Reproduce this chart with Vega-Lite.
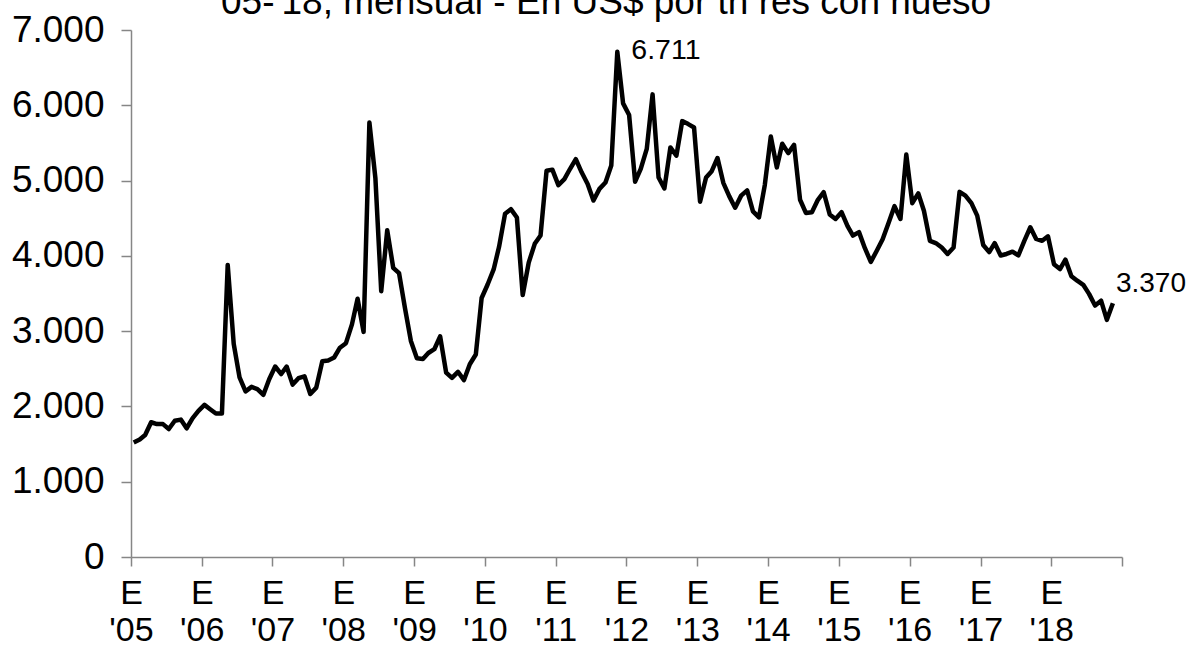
{
  "$schema": "https://vega.github.io/schema/vega-lite/v6.json",
  "autosize": "none",
  "width": 991,
  "height": 527,
  "padding": {"left": 131, "top": 30, "right": 66, "bottom": 98},
  "background": "white",
  "config": {
    "view": {"stroke": null},
    "font": "Liberation Sans",
    "axis": {"grid": false, "domainColor": "#868686", "tickColor": "#868686", "domainWidth": 1.5, "tickWidth": 1.5, "labelColor": "#000000", "labelFont": "Liberation Sans"}
  },
  "title": {
    "text": "'05-'18, mensual - En US$ por tn res con hueso",
    "fontSize": 37,
    "fontWeight": "normal",
    "font": "Liberation Sans",
    "color": "#000000",
    "anchor": "middle",
    "frame": "group",
    "baseline": "alphabetic",
    "offset": 0,
    "dx": -24,
    "dy": 40
  },
  "data": {
    "values": [
      {"date": "2005-01-15", "value": 1520}, {"date": "2005-02-15", "value": 1560}, {"date": "2005-03-15", "value": 1620}, {"date": "2005-04-15", "value": 1790}, {"date": "2005-05-15", "value": 1765}, {"date": "2005-06-15", "value": 1765}, {"date": "2005-07-15", "value": 1700}, {"date": "2005-08-15", "value": 1810}, {"date": "2005-09-15", "value": 1825}, {"date": "2005-10-15", "value": 1710}, {"date": "2005-11-15", "value": 1845}, {"date": "2005-12-15", "value": 1940},
      {"date": "2006-01-15", "value": 2020}, {"date": "2006-02-15", "value": 1960}, {"date": "2006-03-15", "value": 1905}, {"date": "2006-04-15", "value": 1905}, {"date": "2006-05-15", "value": 3880}, {"date": "2006-06-15", "value": 2830}, {"date": "2006-07-15", "value": 2385}, {"date": "2006-08-15", "value": 2200}, {"date": "2006-09-15", "value": 2260}, {"date": "2006-10-15", "value": 2230}, {"date": "2006-11-15", "value": 2155}, {"date": "2006-12-15", "value": 2360},
      {"date": "2007-01-15", "value": 2530}, {"date": "2007-02-15", "value": 2430}, {"date": "2007-03-15", "value": 2530}, {"date": "2007-04-15", "value": 2290}, {"date": "2007-05-15", "value": 2375}, {"date": "2007-06-15", "value": 2400}, {"date": "2007-07-15", "value": 2165}, {"date": "2007-08-15", "value": 2250}, {"date": "2007-09-15", "value": 2600}, {"date": "2007-10-15", "value": 2610}, {"date": "2007-11-15", "value": 2650}, {"date": "2007-12-15", "value": 2780},
      {"date": "2008-01-15", "value": 2840}, {"date": "2008-02-15", "value": 3090}, {"date": "2008-03-15", "value": 3430}, {"date": "2008-04-15", "value": 2990}, {"date": "2008-05-15", "value": 5770}, {"date": "2008-06-15", "value": 5030}, {"date": "2008-07-15", "value": 3530}, {"date": "2008-08-15", "value": 4340}, {"date": "2008-09-15", "value": 3840}, {"date": "2008-10-15", "value": 3770}, {"date": "2008-11-15", "value": 3300}, {"date": "2008-12-15", "value": 2870},
      {"date": "2009-01-15", "value": 2640}, {"date": "2009-02-15", "value": 2630}, {"date": "2009-03-15", "value": 2710}, {"date": "2009-04-15", "value": 2760}, {"date": "2009-05-15", "value": 2930}, {"date": "2009-06-15", "value": 2450}, {"date": "2009-07-15", "value": 2380}, {"date": "2009-08-15", "value": 2460}, {"date": "2009-09-15", "value": 2350}, {"date": "2009-10-15", "value": 2560}, {"date": "2009-11-15", "value": 2690}, {"date": "2009-12-15", "value": 3440},
      {"date": "2010-01-15", "value": 3620}, {"date": "2010-02-15", "value": 3820}, {"date": "2010-03-15", "value": 4120}, {"date": "2010-04-15", "value": 4560}, {"date": "2010-05-15", "value": 4620}, {"date": "2010-06-15", "value": 4510}, {"date": "2010-07-15", "value": 3480}, {"date": "2010-08-15", "value": 3910}, {"date": "2010-09-15", "value": 4160}, {"date": "2010-10-15", "value": 4270}, {"date": "2010-11-15", "value": 5130}, {"date": "2010-12-15", "value": 5145},
      {"date": "2011-01-15", "value": 4940}, {"date": "2011-02-15", "value": 5020}, {"date": "2011-03-15", "value": 5150}, {"date": "2011-04-15", "value": 5285}, {"date": "2011-05-15", "value": 5110}, {"date": "2011-06-15", "value": 4955}, {"date": "2011-07-15", "value": 4735}, {"date": "2011-08-15", "value": 4890}, {"date": "2011-09-15", "value": 4975}, {"date": "2011-10-15", "value": 5200}, {"date": "2011-11-15", "value": 6711, "label": "6.711", "pos": "peak"}, {"date": "2011-12-15", "value": 6025},
      {"date": "2012-01-15", "value": 5870}, {"date": "2012-02-15", "value": 4985}, {"date": "2012-03-15", "value": 5155}, {"date": "2012-04-15", "value": 5420}, {"date": "2012-05-15", "value": 6145}, {"date": "2012-06-15", "value": 5040}, {"date": "2012-07-15", "value": 4895}, {"date": "2012-08-15", "value": 5440}, {"date": "2012-09-15", "value": 5330}, {"date": "2012-10-15", "value": 5790}, {"date": "2012-11-15", "value": 5750}, {"date": "2012-12-15", "value": 5705},
      {"date": "2013-01-15", "value": 4720}, {"date": "2013-02-15", "value": 5040}, {"date": "2013-03-15", "value": 5120}, {"date": "2013-04-15", "value": 5300}, {"date": "2013-05-15", "value": 4970}, {"date": "2013-06-15", "value": 4790}, {"date": "2013-07-15", "value": 4640}, {"date": "2013-08-15", "value": 4800}, {"date": "2013-09-15", "value": 4870}, {"date": "2013-10-15", "value": 4590}, {"date": "2013-11-15", "value": 4510}, {"date": "2013-12-15", "value": 4940},
      {"date": "2014-01-15", "value": 5585}, {"date": "2014-02-15", "value": 5175}, {"date": "2014-03-15", "value": 5490}, {"date": "2014-04-15", "value": 5365}, {"date": "2014-05-15", "value": 5475}, {"date": "2014-06-15", "value": 4745}, {"date": "2014-07-15", "value": 4570}, {"date": "2014-08-15", "value": 4580}, {"date": "2014-09-15", "value": 4745}, {"date": "2014-10-15", "value": 4845}, {"date": "2014-11-15", "value": 4550}, {"date": "2014-12-15", "value": 4490},
      {"date": "2015-01-15", "value": 4580}, {"date": "2015-02-15", "value": 4395}, {"date": "2015-03-15", "value": 4270}, {"date": "2015-04-15", "value": 4315}, {"date": "2015-05-15", "value": 4105}, {"date": "2015-06-15", "value": 3920}, {"date": "2015-07-15", "value": 4065}, {"date": "2015-08-15", "value": 4220}, {"date": "2015-09-15", "value": 4440}, {"date": "2015-10-15", "value": 4660}, {"date": "2015-11-15", "value": 4490}, {"date": "2015-12-15", "value": 5345},
      {"date": "2016-01-15", "value": 4700}, {"date": "2016-02-15", "value": 4830}, {"date": "2016-03-15", "value": 4600}, {"date": "2016-04-15", "value": 4200}, {"date": "2016-05-15", "value": 4170}, {"date": "2016-06-15", "value": 4110}, {"date": "2016-07-15", "value": 4025}, {"date": "2016-08-15", "value": 4110}, {"date": "2016-09-15", "value": 4850}, {"date": "2016-10-15", "value": 4800}, {"date": "2016-11-15", "value": 4700}, {"date": "2016-12-15", "value": 4535},
      {"date": "2017-01-15", "value": 4145}, {"date": "2017-02-15", "value": 4050}, {"date": "2017-03-15", "value": 4170}, {"date": "2017-04-15", "value": 4005}, {"date": "2017-05-15", "value": 4025}, {"date": "2017-06-15", "value": 4055}, {"date": "2017-07-15", "value": 4005}, {"date": "2017-08-15", "value": 4200}, {"date": "2017-09-15", "value": 4380}, {"date": "2017-10-15", "value": 4225}, {"date": "2017-11-15", "value": 4200}, {"date": "2017-12-15", "value": 4260},
      {"date": "2018-01-15", "value": 3890}, {"date": "2018-02-15", "value": 3825}, {"date": "2018-03-15", "value": 3950}, {"date": "2018-04-15", "value": 3730}, {"date": "2018-05-15", "value": 3670}, {"date": "2018-06-15", "value": 3615}, {"date": "2018-07-15", "value": 3495}, {"date": "2018-08-15", "value": 3340}, {"date": "2018-09-15", "value": 3405}, {"date": "2018-10-15", "value": 3150}, {"date": "2018-11-15", "value": 3370, "label": "3.370", "pos": "end"}
    ]
  },
  "encoding": {
    "x": {
      "field": "date",
      "type": "temporal",
      "title": null,
      "scale": {"type": "utc", "domain": ["2005-01-01", "2019-01-01"], "nice": false},
      "axis": {
        "values": [
          {"year": 2005, "month": 1, "date": 1, "utc": true}, {"year": 2006, "month": 1, "date": 1, "utc": true}, {"year": 2007, "month": 1, "date": 1, "utc": true}, {"year": 2008, "month": 1, "date": 1, "utc": true}, {"year": 2009, "month": 1, "date": 1, "utc": true}, {"year": 2010, "month": 1, "date": 1, "utc": true}, {"year": 2011, "month": 1, "date": 1, "utc": true}, {"year": 2012, "month": 1, "date": 1, "utc": true}, {"year": 2013, "month": 1, "date": 1, "utc": true}, {"year": 2014, "month": 1, "date": 1, "utc": true}, {"year": 2015, "month": 1, "date": 1, "utc": true}, {"year": 2016, "month": 1, "date": 1, "utc": true}, {"year": 2017, "month": 1, "date": 1, "utc": true}, {"year": 2018, "month": 1, "date": 1, "utc": true}, {"year": 2019, "month": 1, "date": 1, "utc": true}
        ],
        "labelExpr": "utcyear(datum.value) >= 2019 ? '' : ['E', '\\'' + utcFormat(datum.value, '%y')]",
        "labelFontSize": 34,
        "labelLineHeight": 37,
        "labelPadding": 10,
        "labelDx": 3,
        "labelAlign": "center",
        "labelBaseline": "top",
        "tickSize": 9,
        "labelOverlap": false,
        "labelFlush": false
      }
    },
    "y": {
      "field": "value",
      "type": "quantitative",
      "title": null,
      "scale": {"domain": [0, 7000], "nice": false},
      "axis": {
        "values": [0, 1000, 2000, 3000, 4000, 5000, 6000, 7000],
        "labelExpr": "replace(format(datum.value, ','), ',', '.')",
        "labelFontSize": 37,
        "labelPadding": 17,
        "tickSize": 10
      }
    }
  },
  "layer": [
    {
      "mark": {"type": "line", "color": "#000000", "strokeWidth": 4.5, "strokeJoin": "round"}
    },
    {
      "transform": [{"filter": "datum.pos == 'peak'"}],
      "mark": {"type": "text", "align": "left", "baseline": "middle", "dx": 14, "dy": -2, "fontSize": 28.5, "color": "#000000"},
      "encoding": {"text": {"field": "label"}}
    },
    {
      "transform": [{"filter": "datum.pos == 'end'"}],
      "mark": {"type": "text", "align": "left", "baseline": "middle", "dx": 3, "dy": -19, "fontSize": 28, "color": "#000000"},
      "encoding": {"text": {"field": "label"}}
    }
  ]
}
